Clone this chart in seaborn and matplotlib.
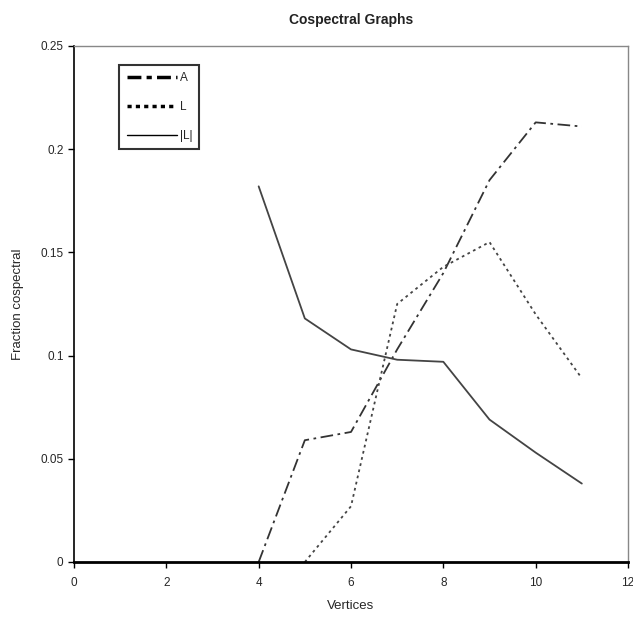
import matplotlib
matplotlib.use("Agg")
import matplotlib.pyplot as plt
import seaborn as sns
import pandas as pd

vertices_A = [4, 5, 6, 7, 8, 9, 10, 11]
frac_A = [0.0, 0.059, 0.063, 0.103, 0.140, 0.185, 0.213, 0.211]
vertices_L = [5, 6, 7, 8, 9, 10, 11]
frac_L = [0.0, 0.027, 0.125, 0.143, 0.155, 0.120, 0.089]
vertices_absL = [4, 5, 6, 7, 8, 9, 10, 11]
frac_absL = [0.182, 0.118, 0.103, 0.098, 0.097, 0.069, 0.053, 0.038]
series_names = ["A", "L", "|L|"]
x_ticks = [0, 2, 4, 6, 8, 10, 12]
y_ticks = [0, 0.05, 0.1, 0.15, 0.2, 0.25]
y_tick_labels = ["0", "0.05", "0.1", "0.15", "0.2", "0.25"]

sns.set_style("white")
plt.rcParams["font.family"] = ["Liberation Sans", "DejaVu Sans"]

df = pd.concat([
    pd.DataFrame({"Vertices": vertices_A, "frac": frac_A, "series": series_names[0]}),
    pd.DataFrame({"Vertices": vertices_L, "frac": frac_L, "series": series_names[1]}),
    pd.DataFrame({"Vertices": vertices_absL, "frac": frac_absL, "series": series_names[2]}),
])

fig = plt.figure(figsize=(6.33, 6.30), dpi=100)
ax = fig.add_axes([74/633, 68/630, 554/633, 516/630])

dashes = {"A": (7, 2.5, 1.5, 2.5), "L": (1.5, 2), "|L|": ""}
sns.lineplot(data=df, x="Vertices", y="frac", hue="series", style="series",
             palette={"A": "#333333", "L": "#444444", "|L|": "#444444"},
             dashes=dashes, ax=ax, linewidth=1.3, legend=False)

ax.set_xlim(0, 12)
ax.set_ylim(0, 0.25)
ax.set_xticks(x_ticks)
ax.set_yticks(y_ticks)
ax.set_yticklabels(y_tick_labels)
ax.tick_params(axis="both", direction="out", length=4, width=1, labelsize=8.5, color="black", left=True, bottom=True)
ax.tick_params(axis="x", pad=7)
for s in ["top", "right"]:
    ax.spines[s].set_color("#888888")
    ax.spines[s].set_linewidth(1)
for s in ["left", "bottom"]:
    ax.spines[s].set_color("black")
ax.spines["bottom"].set_linewidth(2)
ax.spines["left"].set_linewidth(1.2)

ax.set_xlabel("Vertices", fontsize=9.5, labelpad=8)
ax.set_ylabel("Fraction cospectral", fontsize=9.5, labelpad=12)
ax.set_title("Cospectral Graphs", fontsize=10, fontweight="bold", pad=16, color="#222222")

from matplotlib.lines import Line2D
handles = [
    Line2D([], [], color="black", linewidth=2.5, dashes=(4, 1.5, 1.5, 1.5)),
    Line2D([], [], color="black", linewidth=2.5, dashes=(1.2, 1.2)),
    Line2D([], [], color="black", linewidth=1.0),
]
leg = ax.legend(handles, series_names, loc="upper left", bbox_to_anchor=(0.082, 0.963),
                frameon=True, fancybox=False, fontsize=8.5, handlelength=4.3,
                labelspacing=1.45, handletextpad=0.2, borderpad=0.6, borderaxespad=0)
leg.get_frame().set_edgecolor("black")
leg.get_frame().set_linewidth(1.5)

fig.savefig("out.png", dpi=100)
